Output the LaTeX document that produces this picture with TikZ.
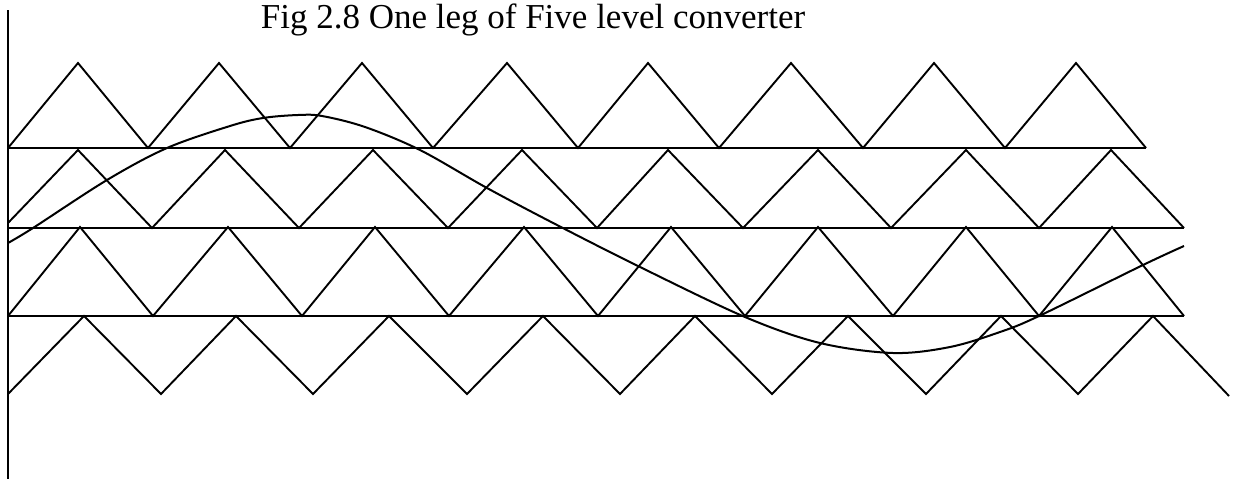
\documentclass[tikz,border=0pt]{standalone}
\usepackage{fontspec}
\setmainfont{Liberation Serif}
\begin{document}
\begin{tikzpicture}[x=1pt,y=-1pt,
  wave/.style={line width=1.9pt, line join=miter},
  level/.style={line width=2.3pt},
  axisline/.style={line width=1.9pt},
  ref/.style={line width=2pt},
  title/.style={font=\fontsize{35}{40}\selectfont, anchor=base}]
\useasboundingbox (0,0) rectangle (1236,479);
% axis
\draw[axisline] (8,10) -- (8,479);
% title
\node[title] (ttl) at (533,28) {Fig 2.8 One leg of Five level converter};
% level lines
\draw[level] (8,148) -- (1146,148);
\draw[level] (8,228) -- (1184,228);
\draw[level] (8,316) -- (1184,316);
% band 1
\draw[wave] (8,148) -- (78,63) -- (148,148) -- (219,63) -- (290,148) -- (362,63) -- (433,148)
  -- (507,63) -- (578,148) -- (648,63) -- (719,148) -- (791,63) -- (863,148) -- (934,63)
  -- (1005,148) -- (1076,63) -- (1146,148);
% band 2
\draw[wave] (8,223) -- (78,150) -- (152,228) -- (225,150) -- (299,228) -- (373,150) -- (448,228)
  -- (522,150) -- (597,228) -- (668,150) -- (743,228) -- (818,150) -- (891,228) -- (966,150)
  -- (1039,228) -- (1111,150) -- (1184,228);
% band 3
\draw[wave] (8,316) -- (80,227) -- (153,316) -- (228,227) -- (302,316) -- (375,227) -- (449,316)
  -- (524,227) -- (598,316) -- (671,227) -- (745,316) -- (818,227) -- (893,316) -- (966,227)
  -- (1039,316) -- (1112,227) -- (1184,316);
% band 4
\draw[wave] (8,394) -- (84,316) -- (161,394) -- (236,316) -- (313,394) -- (389,316) -- (467,394)
  -- (543,316) -- (620,394) -- (695,316) -- (772,394) -- (848,316) -- (926,394) -- (1001,316)
  -- (1078,394) -- (1153,316) -- (1229,396);
% reference sine
\draw[ref] plot[smooth, tension=0.55] coordinates {
  (8,243) (33,228) (107,180) (167,148) (230,126) (263,118) (298,115) (322,116)
  (365,127) (420,150) (487,188) (557,225) (640,267)
  (745,317) (820,343) (893,353) (950,347) (1000,332) (1039,316) (1143,265) (1184,246)};
\end{tikzpicture}
\end{document}
